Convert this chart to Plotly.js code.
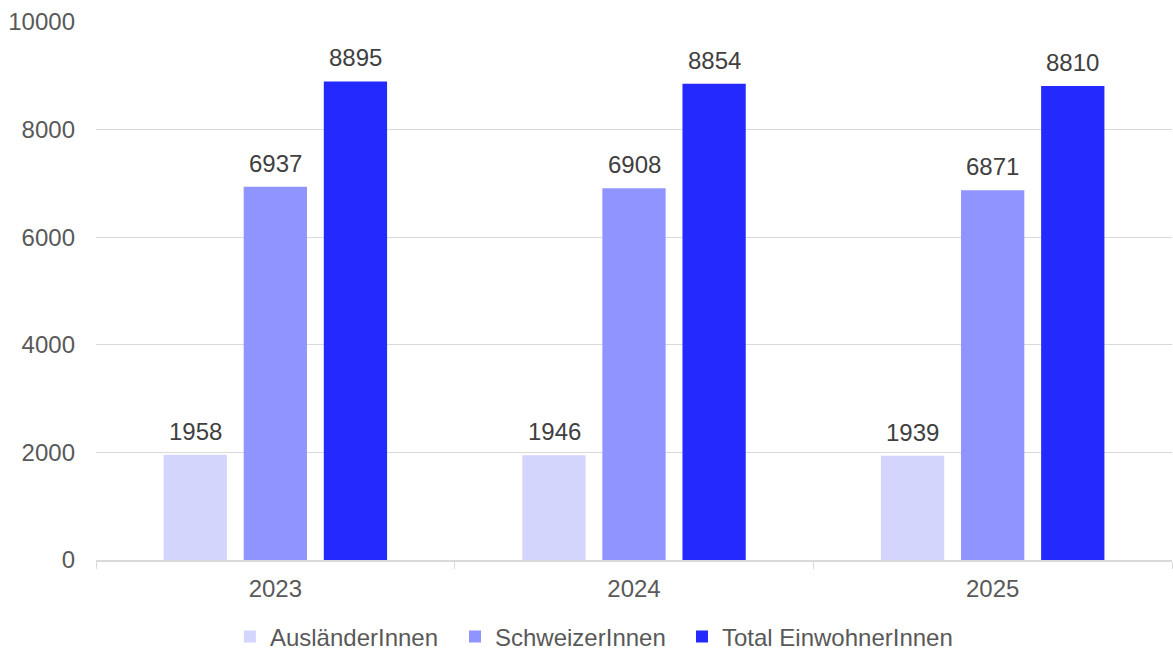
<!DOCTYPE html>
<html>
<head>
<meta charset="utf-8">
<script src="https://cdn.plot.ly/plotly-3.0.1.min.js"></script>
<style>html,body{margin:0;padding:0;background:#fff;}#chart{width:1173px;height:650px;}</style>
</head>
<body>
<div id="chart"></div>
<div id="err" style="position:absolute;top:0;left:300px;color:red;font-size:14px"></div>
<script>
const categories = ['2023', '2024', '2025'];
const seriesNames = ['AusländerInnen', 'SchweizerInnen', 'Total EinwohnerInnen'];
const auslaender = [1958, 1946, 1939];
const schweizer = [6937, 6908, 6871];
const total = [8895, 8854, 8810];
const yTicks = [0, 2000, 4000, 6000, 8000, 10000];

const colors = ['#D4D5FC', '#9094FE', '#2429FE'];
const seriesValues = [auslaender, schweizer, total];
const legendIds = ['legend', 'legend2', 'legend3'];
const legendX = [0.196, 0.3879, 0.5814];
const font = 'Liberation Sans';

try {
const traces = seriesValues.map((vals, i) => ({
  type: 'bar',
  name: seriesNames[i],
  x: categories,
  y: vals,
  legend: legendIds[i],
  marker: {color: colors[i], line: {width: 0}},
  hoverinfo: 'x+y+name'
}));

const shifts = [-80, 0, 80];
const annotations = [];
seriesValues.forEach((vals, i) => {
  vals.forEach((v, j) => {
    annotations.push({
      x: j, y: v, xref: 'x', yref: 'y',
      text: String(v), showarrow: false,
      xshift: shifts[i], yanchor: 'bottom', yshift: 8,
      font: {family: font, size: 24, color: '#404040'}
    });
  });
});

const layout = {
  width: 1173, height: 650,
  margin: {l: 96, r: 1, t: 22, b: 90},
  paper_bgcolor: '#fff', plot_bgcolor: '#fff',
  barmode: 'group',
  bargap: 0.33,
  bargroupgap: 0.21,
  font: {family: font, size: 24, color: '#595959'},
  xaxis: {
    type: 'category',
    range: [-0.5, 2.5],
    showline: true, linecolor: '#d9d9d9', linewidth: 2,
    ticks: 'outside', tickson: 'boundaries', ticklen: 7, tickcolor: '#d9d9d9', tickwidth: 1,
    showgrid: false,
    ticklabelstandoff: 6,
    tickfont: {family: font, size: 24, color: '#595959'}
  },
  yaxis: {
    range: [0, 10000],
    tickvals: yTicks,
    ticktext: yTicks.map(String),
    showgrid: true, gridcolor: '#d9d9d9', gridwidth: 1,
    zeroline: false, showline: false, ticks: '',
    ticklabelstandoff: 20,
    tickfont: {family: font, size: 24, color: '#595959'}
  },
  annotations: annotations,
  showlegend: true
};
legendIds.forEach((id, i) => {
  layout[id] = {
    orientation: 'h', xref: 'container', x: legendX[i], xanchor: 'left',
    yref: 'container', y: 0.02, yanchor: 'middle',
    bgcolor: 'rgba(0,0,0,0)',
    font: {family: font, size: 24, color: '#595959'},
    itemclick: false
  };
});

Plotly.newPlot('chart', traces, layout, {displayModeBar: false, staticPlot: true}).catch(e => {document.getElementById('err').textContent = String(e);});
} catch (e) { document.getElementById('err').textContent = String(e); }
</script>
</body>
</html>
